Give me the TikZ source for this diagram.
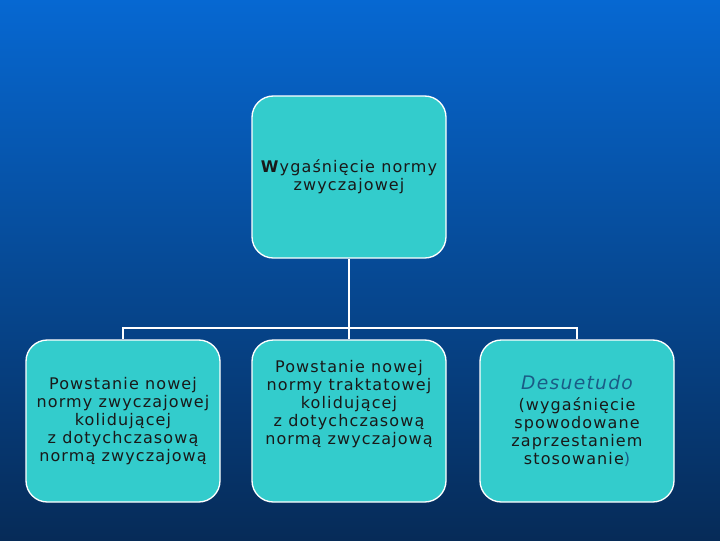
\documentclass[tikz,border=0pt]{standalone}
\usepackage{fontspec}
\setmainfont{DejaVu Sans}[LetterSpace=7]
\usetikzlibrary{positioning}
\definecolor{tq}{HTML}{33CCCC}
\definecolor{bgtop}{HTML}{0668D2}
\definecolor{bgmid}{HTML}{08509E}
\definecolor{bgbot}{HTML}{062B58}
\definecolor{desu}{HTML}{1A5C86}
\begin{document}
\begin{tikzpicture}[x=0.75pt,y=-0.75pt,font=\fontsize{12}{13.5}\selectfont,
  box/.style={draw=white,line width=1pt,fill=tq,rounded corners=16pt,
    minimum width=145.5pt,minimum height=121.5pt,align=center,text=black!90,inner sep=2pt},
  link/.style={draw=white,line width=2pt}]
\shade[top color=bgtop,middle color=bgmid,bottom color=bgbot] (0,0) rectangle (720,540);
\useasboundingbox (0,0) rectangle (720,540);
% root
\node[box] (root) at (349,177) {\textbf{W}ygaśnięcie normy\\zwyczajowej};
% children
\node[box] (zwycz) at (123,421) {Powstanie nowej\\normy zwyczajowej\\kolidującej\\z dotychczasową\\normą zwyczajową};
\node[box] (trakt) at (349,421) {Powstanie nowej\\normy traktatowej\\kolidującej\\z dotychczasową\\normą zwyczajową\\[14pt]};
\node[box] (desuet) at (577,421) {{\fontsize{14}{16}\selectfont\itshape\color{desu}Desuetudo}\\[2pt](wygaśnięcie\\spowodowane\\zaprzestaniem\\stosowanie{\color{desu})}};
\coordinate (joint) at (349,328);
\draw[link] (root.south) -- (joint);
\draw[link] (joint) -| (zwycz.north);
\draw[link] (joint) -- (trakt.north);
\draw[link] (joint) -| (desuet.north);
\end{tikzpicture}
\end{document}
